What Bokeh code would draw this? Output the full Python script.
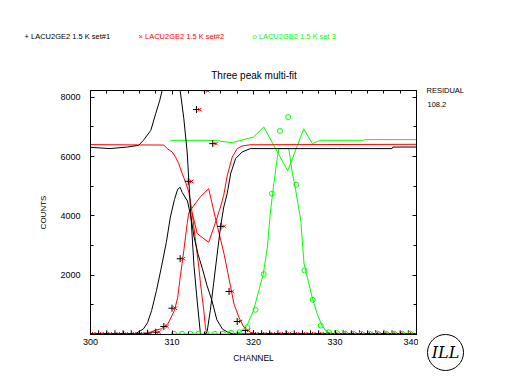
from bokeh.plotting import figure
from bokeh.models import Range1d, LinearAxis, FixedTicker, ColumnDataSource
from bokeh.transform import dodge
from bokeh.layouts import column, row
from bokeh.core.properties import value
from bokeh.embed import file_html
from bokeh.resources import INLINE

# ---------------- data ----------------
channels_1 = list(range(300, 341))
counts_1 = [25, 25, 22, 25, 24, 25, 24, 44, 78, 270, 888, 2555, 5165, 7586, 8225, 6438, 3646, 1452,
            439, 135, 24, 25, 22, 25, 24, 25, 22, 25, 24, 25, 22, 25, 24, 25, 22, 25, 24, 25, 22, 25, 24]
channels_2 = list(range(300, 341))
counts_2 = [25, 25, 22, 25, 24, 25, 24, 44, 78, 270, 888, 2555, 5165, 7586, 8225, 6438, 3646, 1452,
            439, 135, 24, 25, 22, 25, 24, 25, 22, 25, 24, 25, 22, 25, 24, 25, 22, 25, 24, 25, 22, 25, 24]
channels_3 = list(range(310, 341))
counts_3 = [25, 25, 25, 25, 25, 25, 25, 57, 78, 247, 834, 2036, 4750, 6864, 7336, 5054, 2160, 1171,
            304, 78, 44, 25, 25, 25, 25, 25, 25, 25, 25, 25, 25]

# fitted / residual curves
black_res_ch = [300, 302.4, 304.5, 305.9, 306.5, 307.4, 308.0, 308.5, 308.8, 309.5, 310.4, 311.0, 311.45,
                311.86, 312.27, 312.7, 313.1, 313.5, 313.9, 314.3, 314.7, 315.1, 315.5, 315.95, 316.35,
                316.77, 317.2, 317.8, 318.6, 319.6, 330.3, 337.0, 337.1, 340]
black_res_ct = [6313, 6270, 6323, 6380, 6550, 6887, 7450, 7900, 8240, 11000, 11000, 8240, 7282,
                6155, 4244, 2300, 1100, 0, 0, 78, 810, 1711, 2610, 3622, 4298,
                4750, 5425, 5932, 6155, 6270, 6270, 6270, 6323, 6323]
black_fit_ch = [300, 305.5, 306.5, 307.0, 307.5, 308.1, 308.7, 309.3, 309.8, 310.3, 310.7, 311.0, 311.25,
                311.9, 312.3, 312.7, 313.2, 313.7, 314.3, 314.9, 315.5, 316.2, 316.85, 317.5, 340]
black_fit_ct = [15, 20, 190, 400, 810, 1485, 2272, 3100, 3960, 4550, 4900, 4966, 4790,
                4500, 4000, 3300, 2700, 2250, 1650, 1148, 500, 180, 78, 20, 15]
red_res_ch = [300, 309.0, 309.41, 310.02, 310.43, 310.83, 311.25, 311.66, 312.06, 312.27, 312.48, 313.1,
              314.5, 315.3, 315.95, 316.35, 316.77, 317.39, 318.0, 318.6, 319.6, 340]
red_res_ct = [6404, 6390, 6270, 6155, 5986, 5763, 5425, 5142, 4804, 4467, 4100, 3400,
              3110, 3750, 4300, 4700, 5350, 5985, 6270, 6358, 6400, 6415]
red_drop_ch = [312.48, 312.88, 313.29, 313.5, 313.9, 314.1, 314.3]
red_drop_ct = [4100, 3173, 2272, 1711, 810, 246, 0]
red_fit_ch = [300, 306, 307, 308, 308.7, 309.5, 310.3, 310.7, 311.04, 311.45, 311.86, 312.06, 312.67, 313.5,
              314.5, 315.3, 316.4, 317.2, 317.6, 318.2, 318.8, 319.6, 320.5, 340]
red_fit_ct = [15, 20, 40, 150, 190, 360, 810, 1250, 2000, 2836, 3736, 4100, 4350, 4650,
              4920, 3960, 2700, 1600, 1036, 585, 250, 78, 15, 15]
green_res_ch = [309.8, 315.74, 315.95, 317.4, 318.8, 320.0, 321.26, 324.2, 326.17, 327.2, 328.2, 333.5, 333.7, 340]
green_res_ct = [6550, 6550, 6515, 6472, 6573, 6660, 7000, 5520, 6944, 6438, 6550, 6550, 6573, 6573]
green_fit_ch = [310, 317.5, 318.4, 319.2, 320.0, 320.65, 321.2, 321.7, 322.1, 322.5, 322.9, 323.1, 324.33,
                324.75, 325.15, 325.8, 326.2, 326.7, 327.2, 327.8, 328.4, 329.0, 329.9, 340]
green_fit_ct = [15, 20, 78, 304, 810, 1485, 2036, 2948, 4200, 5100, 5932, 6270, 6270,
                5481, 4900, 3850, 2386, 1823, 1260, 700, 304, 78, 15, 15]

x_ticks = [300, 310, 320, 330, 340]
x_minor = list(range(300, 341, 2))
y_ticks = [2000, 4000, 6000, 8000]
y_minor = [1000, 2000, 3000, 4000, 5000, 6000, 7000, 8000]

legend_texts = ["+ LACU2GE2 1.5 K set#1", "\u00d7 LACU2GE2 1.5 K set#2", "o LACU2GE2 1.5 K set 3"]
title_text = "Three peak multi-fit"
residual_label = "RESIDUAL"
residual_value = "108.2"

BLACK = "#000000"
RED = "#ff0000"
GREEN = "#00ff00"
FONT = "Liberation Sans"

X0, X1, Y0, Y1 = 300, 340, 0, 8230

# ---------------- helper for text-only strips (page-pixel coordinates) ----------------
def strip(width, height, x0, y0):
    f = figure(width=width, height=height, output_backend="svg", toolbar_location=None,
               x_range=Range1d(x0, x0 + width), y_range=Range1d(y0 + height, y0),
               x_axis_location=None, y_axis_location=None, min_border=0,
               min_border_left=0, min_border_right=0, min_border_top=0, min_border_bottom=0)
    f.outline_line_color = None
    f.background_fill_color = "white"
    f.border_fill_color = "white"
    f.grid.visible = False
    return f

def put(f, xp, yp, text, color=BLACK, size="8px", align="left", font=FONT, style="normal"):
    f.text(x=[xp], y=[yp], text=[text], text_color=color, text_font=value(font),
           text_font_size=value(size), text_align=align, text_baseline="middle",
           text_font_style=style)

# top strip: legend line and title (page y 0..82)
top = strip(506, 82, 0, 0)
put(top, 24, 36, legend_texts[0], BLACK, "7.5px")
put(top, 138, 36, legend_texts[1], RED, "7.5px")
put(top, 252, 36, legend_texts[2], GREEN, "7.5px")
put(top, 253.5, 75, title_text, BLACK, "10px", "center")

# ---------------- main plot ----------------
p = figure(width=418, height=306, output_backend="svg", toolbar_location=None,
           x_range=Range1d(X0, X1), y_range=Range1d(Y0, Y1),
           min_border_left=90, min_border_right=2, min_border_top=8, min_border_bottom=54)
p.background_fill_color = "white"
p.border_fill_color = "white"
p.outline_line_color = BLACK
p.xgrid.visible = False
p.ygrid.visible = False

def style_axis(ax, labels):
    ax.axis_line_color = BLACK
    ax.major_tick_in = 4
    ax.major_tick_out = 0
    ax.minor_tick_in = 3
    ax.minor_tick_out = 0
    ax.major_tick_line_color = BLACK
    ax.minor_tick_line_color = BLACK
    if labels:
        ax.major_label_text_font = FONT
        ax.major_label_text_font_size = "9px"
        ax.major_label_text_color = BLACK
        ax.axis_label_text_font = FONT
        ax.axis_label_text_font_style = "normal"
        ax.axis_label_text_color = BLACK
    else:
        ax.major_label_text_color = None
        ax.major_label_text_font_size = "0px"
        ax.major_label_standoff = 0

for ax in p.xaxis:
    ax.ticker = FixedTicker(ticks=x_ticks, minor_ticks=x_minor)
    style_axis(ax, True)
    ax.major_label_standoff = 4
    ax.axis_label = "CHANNEL"
    ax.axis_label_text_font_size = "8.5px"
    ax.axis_label_standoff = 5
for ax in p.yaxis:
    ax.ticker = FixedTicker(ticks=y_ticks, minor_ticks=y_minor)
    style_axis(ax, True)
    ax.major_label_standoff = 10
    ax.axis_label = "COUNTS"
    ax.axis_label_text_font_size = "8px"
    ax.axis_label_standoff = 9

top_ax = LinearAxis(ticker=FixedTicker(ticks=x_ticks, minor_ticks=x_minor))
style_axis(top_ax, False)
p.add_layout(top_ax, "above")
right_ax = LinearAxis(ticker=FixedTicker(ticks=y_ticks, minor_ticks=y_minor))
style_axis(right_ax, False)
p.add_layout(right_ax, "right")

# curves (green underneath, then red, then black)
p.line(green_fit_ch, green_fit_ct, line_color=GREEN, line_width=1)
p.line(green_res_ch, green_res_ct, line_color=GREEN, line_width=1)
p.line(red_fit_ch, red_fit_ct, line_color=RED, line_width=1)
p.line(red_res_ch, red_res_ct, line_color=RED, line_width=1)
p.line(red_drop_ch, red_drop_ct, line_color=RED, line_width=1)
p.line(black_fit_ch, black_fit_ct, line_color=BLACK, line_width=1)
p.line(black_res_ch, black_res_ct, line_color=BLACK, line_width=1)

src1 = ColumnDataSource(dict(ch=channels_1, ct=counts_1))
src2 = ColumnDataSource(dict(ch=channels_2, ct=counts_2))
src3 = ColumnDataSource(dict(ch=channels_3, ct=counts_3))
p.scatter(x="ch", y="ct", source=src1, marker="cross", size=7, line_color=BLACK, line_width=1)
p.scatter(x=dodge("ch", 0.4, range=p.x_range), y="ct", source=src2, marker="x", size=5,
          line_color=RED, line_width=1)
p.scatter(x=dodge("ch", 0.25, range=p.x_range), y="ct", source=src3, marker="circle", size=5,
          line_color=GREEN, fill_color=None, line_width=1)

# ---------------- right strip: residual text and logo (page x 418..506, y 82..388) ----------------
right = strip(88, 306, 418, 82)
put(right, 426, 90, residual_label, BLACK, "7.5px")
put(right, 427, 104, residual_value, BLACK, "7.5px")
right.scatter(x=[445], y=[352], marker="circle", size=36, fill_color=None, line_color=BLACK, line_width=1)
put(right, 445, 352, "ILL", BLACK, "16px", "center", "DejaVu Serif", "italic")

layout = column(top, row(p, column(right)))
open("out.html", "w").write(file_html(layout, INLINE))
